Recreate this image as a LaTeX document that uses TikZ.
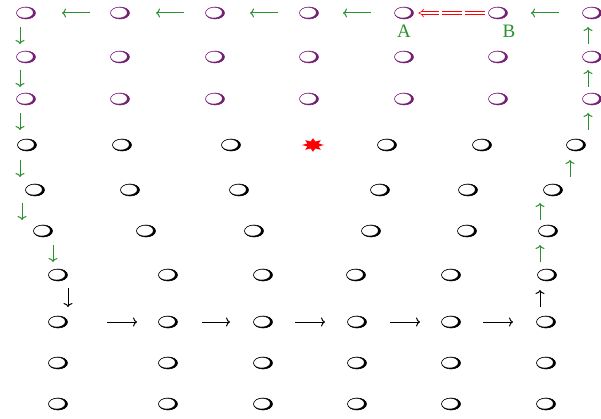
\documentclass[tikz,border=0pt]{standalone}
\usepackage{fontspec}
\setmainfont{Liberation Serif}
\usetikzlibrary{shapes}
\usetikzlibrary{arrows.meta}

\definecolor{hopgreen}{RGB}{40,145,45}
\definecolor{rimpurple}{RGB}{150,45,150}

\tikzset{
  atom/.style={ellipse, draw=#1, line width=0.6pt, minimum width=19pt,
    minimum height=12pt, inner sep=0pt},
  hop/.style={line width=1pt, -{To[length=4pt,width=9pt]}},
  tag/.style={text=hopgreen, font=\fontsize{19}{19}\selectfont, inner sep=0pt},
}

% atom: name, x, y, colour
\newcommand\atom[4]{%
  \node[atom=#4] (#1) at (#2,#3) {};
  \fill[#4!75!black, even odd rule] (#1.center) ellipse [x radius=9.5pt, y radius=6pt]
    ([shift={(-1.2pt,0.4pt)}]#1.center) ellipse [x radius=8.3pt, y radius=5.2pt];
}

\begin{document}
\begin{tikzpicture}[x=1pt, y=-1pt]
\useasboundingbox (0,0) rectangle (601,419);
% top layers
\foreach \y [count=\r] in {13,57,99}
  \foreach \x [count=\c] in {26,120,215,309,404,498,592}
    {\atom{p\r-\c}{\x}{\y}{rimpurple}}
% lower layers
\foreach \x [count=\c] in {27,122,231,387,482,576} {\atom{b4-\c}{\x}{145}{black}}
\foreach \x [count=\c] in {35,130,239,380,468,553} {\atom{b5-\c}{\x}{190}{black}}
\foreach \x [count=\c] in {43,146,254,371,467,548} {\atom{b6-\c}{\x}{231}{black}}
\foreach \x [count=\c] in {58,168,263,356,451,547} {\atom{b7-\c}{\x}{275}{black}}
\foreach \y [count=\r from 8] in {322,363,404}
  \foreach \x [count=\c] in {58,168,263,357,451,546}
    {\atom{b\r-\c}{\x}{\y}{black}}
% vacancy
\node[star, star points=8, star point ratio=1.8, fill=red, inner sep=0pt,
  minimum size=20pt, xscale=1.1, yscale=0.68, transform shape] (vac) at (313,145) {};
% labels
\node[tag] (labA) at (404,31) {A};
\node[tag] (labB) at (509,31) {B};
% exchange B -> A
\draw[red, line width=0.6pt, double, double distance=2.4pt,
  dash pattern=on 20pt off 3pt, -{Implies}, shorten <=3.5pt, shorten >=4.5pt]
  (p1-6) -- (p1-5);
% green hops
\foreach \xa/\ya/\xb/\yb in {90/13/62/13, 184/13/156/13, 278/13/250/13,
    371/13/343/13, 559/13/531/13,
    20/27/20/44, 20/70/20/87, 20/113/20/130, 20/160/20/177, 22/203/22/220,
    53/245/53/262,
    588/44/588/27, 588/87/588/70, 588/130/588/113, 570/177/570/160,
    540/220/540/203, 540/262/540/245}
  \draw[hop, hopgreen] (\xa,\ya) -- (\xb,\yb);
% black hops
\foreach \xa/\ya/\xb/\yb in {68/288/68/307, 540/307/540/290,
    107/322/137/322, 202/322/230/322, 295/322/325/322, 390/322/420/322,
    483/322/513/322}
  \draw[hop, black] (\xa,\ya) -- (\xb,\yb);
\end{tikzpicture}
\end{document}
